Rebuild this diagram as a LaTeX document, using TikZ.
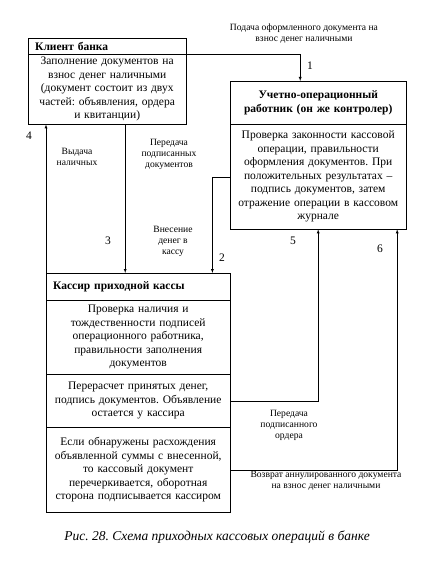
\documentclass[tikz,border=0pt]{standalone}
\usepackage{fontspec}
\setmainfont{Liberation Serif}
\usetikzlibrary{arrows}
\frenchspacing

\tikzset{
	box/.style={draw,anchor=north west,inner xsep=3pt,inner ysep=0pt,align=center,font=\fontsize{11.5}{13.5}\selectfont},
	lbl/.style={align=center,font=\fontsize{9.6}{11}\selectfont},
	num/.style={font=\fontsize{11.5}{13}\selectfont}
}

\begin{document}
\begin{tikzpicture}[x=1pt,y=-1pt]
	\useasboundingbox (0,0) rectangle (424,567);
	% client
	\node[box,text width=152pt,minimum height=16pt,align=left,font=\fontsize{11.5}{13.5}\selectfont\bfseries] (ct) at (28,38) {\hspace{4pt}Клиент банка};
	\node[box,text width=152pt,minimum height=70pt] (cb) at (28,54) {Заполнение документов на\\взнос денег наличными\\(документ состоит из двух\\частей: объявления, ордера\\и квитанции)};
	% controller
	\node[box,text width=170pt,minimum height=43pt,font=\fontsize{11.5}{13.5}\selectfont\bfseries] (kt) at (230,81) {Учетно-операционный\\работник (он же контролер)};
	\node[box,text width=170pt,minimum height=105pt] (kb) at (230,124) {Проверка законности кассовой\\операции, правильности\\оформления документов. При\\положительных результатах --\\подпись документов, затем\\отражение операции в кассовом\\журнале};
	% cashier
	\node[box,text width=178pt,minimum height=27pt,align=left,font=\fontsize{11.5}{13.5}\selectfont\bfseries] (st) at (46,273) {\hspace{4pt}Кассир приходной кассы};
	\node[box,text width=178pt,minimum height=74pt] (s1) at (46,300) {Проверка наличия и\\тождественности подписей\\операционного работника,\\правильности заполнения\\документов};
	\node[box,text width=178pt,minimum height=53pt] (s2) at (46,374) {Перерасчет принятых денег,\\подпись документов. Объявление\\остается у кассира};
	\node[box,text width=178pt,minimum height=85pt] (s3) at (46,427) {Если обнаружены расхождения\\объявленной суммы с внесенной,\\то кассовый документ\\перечеркивается, оборотная\\сторона подписывается кассиром};
	% connectors
	\draw [->,>=latex] (ct.south east) -| ([xshift=-18pt]kt.north);
	\draw [->,>=latex] (kb.west) -| ([xshift=-18pt]st.north east);
	\draw [->,>=latex] ([xshift=18pt]cb.south) -- ([xshift=18pt]cb.south |- st.north);
	\draw [->,>=latex] (st.north west) -- (st.north west |- cb.south);
	\draw [->,>=latex] (s2.east) -| (kb.south);
	\draw [->,>=latex] (s3.east) -| ([xshift=79pt]kb.south);
	% labels
	\node[lbl] (l1) at (304,34) {Подача оформленного документа на\\взнос денег наличными};
	\node[num] (n1) at (310,66) {1};
	\node[lbl] (l2) at (173,241) {Внесение\\денег в\\кассу};
	\node[num] (n2) at (222,258) {2};
	\node[lbl] (l3) at (169,154) {Передача\\подписанных\\документов};
	\node[num] (n3) at (108,241) {3};
	\node[lbl] (l4) at (77,157) {Выдача\\наличных};
	\node[num] (n4) at (29,136) {4};
	\node[lbl] (l5) at (289,425) {Передача\\подписанного\\ордера};
	\node[num] (n5) at (293,241) {5};
	\node[lbl] (l6) at (326,481) {Возврат аннулированного документа\\на взнос денег наличными};
	\node[num] (n6) at (380,249) {6};
	\node[font=\fontsize{13.5}{15}\selectfont\itshape] (cap) at (217,537) {Рис. 28. Схема приходных кассовых операций в банке};
\end{tikzpicture}
\end{document}
